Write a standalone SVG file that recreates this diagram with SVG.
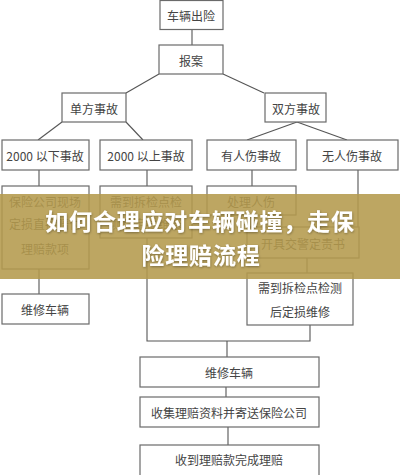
<svg xmlns="http://www.w3.org/2000/svg" width="400" height="475" viewBox="0 0 400 475">
<defs>
<style>
.box{fill:#fff;stroke:#6a6a6a;stroke-width:1.2}
.t{font-family:"Noto Sans CJK SC","Liberation Serif",serif;font-size:12px;fill:#444;text-anchor:middle;dominant-baseline:central}
.c line,.c polyline{stroke:#555;stroke-width:1.1;fill:none}
.title{font-family:"Noto Sans CJK SC","Liberation Sans",sans-serif;font-size:23px;font-weight:bold;fill:#fff;text-anchor:middle;dominant-baseline:central;letter-spacing:0.8px}
</style>
<filter id="sh" x="-5%" y="-20%" width="110%" height="140%"><feDropShadow dx="0.5" dy="1" stdDeviation="0.8" flood-color="#000" flood-opacity="0.35"/></filter>
</defs>
<rect width="400" height="475" fill="#fff"/>
<g class="c">
<line x1="192" y1="29" x2="192" y2="45"/>
<line x1="159" y1="74" x2="126" y2="93"/>
<line x1="223" y1="74" x2="264" y2="93"/>
<line x1="62" y1="122" x2="38" y2="140"/>
<line x1="126" y1="122" x2="143" y2="140"/>
<line x1="297" y1="122" x2="247" y2="140"/>
<line x1="297" y1="122" x2="347" y2="140"/>
<line x1="39" y1="170" x2="39" y2="186"/>
<line x1="147" y1="170" x2="147" y2="186"/>
<line x1="252" y1="170" x2="252" y2="186"/>
<line x1="358" y1="170" x2="358" y2="227"/>
<line x1="39" y1="269" x2="39" y2="294"/>
<line x1="252" y1="215" x2="252" y2="227"/>
<line x1="307" y1="258" x2="307" y2="273"/>
<polyline points="147,238 147,341 310,341 310,325"/>
<line x1="227" y1="341" x2="227" y2="357"/>
<line x1="226" y1="387" x2="226" y2="397"/>
<line x1="228" y1="427" x2="228" y2="445"/>
</g>
<g id="n1"><rect class="box" x="160" y="0.5" width="63" height="29"/><text class="t" x="191" y="15">车辆出险</text></g>
<g id="n2"><rect class="box" x="159" y="45" width="64" height="29"/><text class="t" x="191" y="60">报案</text></g>
<g id="n3"><rect class="box" x="62" y="93" width="64" height="29"/><text class="t" x="94" y="108">单方事故</text></g>
<g id="n4"><rect class="box" x="265" y="93" width="61" height="29"/><text class="t" x="296" y="108">双方事故</text></g>
<g id="n5"><rect class="box" x="2" y="140" width="87" height="30"/><text class="t" x="45" y="155">2000 以下事故</text></g>
<g id="n6"><rect class="box" x="100" y="140" width="92" height="30"/><text class="t" x="146" y="155">2000 以上事故</text></g>
<g id="n7"><rect class="box" x="207" y="140" width="89" height="30"/><text class="t" x="251" y="155">有人伤事故</text></g>
<g id="n8"><rect class="box" x="307" y="140" width="91" height="30"/><text class="t" x="352" y="155">无人伤事故</text></g>
<g id="n9"><rect class="box" x="2" y="186" width="87" height="83"/><text class="t" x="45" y="201">保险公司现场</text><text class="t" x="45" y="223">定损直接赔付</text><text class="t" x="45" y="248">理赔款项</text></g>
<g id="n10"><rect class="box" x="100" y="186" width="92" height="52"/><text class="t" x="146" y="201">需到拆检点检</text><text class="t" x="146" y="223">测后定损维修</text></g>
<g id="n11"><rect class="box" x="207" y="186" width="89" height="29"/><text class="t" x="251" y="201">处理人伤</text></g>
<g id="n12"><rect class="box" x="247" y="227" width="112" height="31"/><text class="t" x="303" y="243">开具交警定责书</text></g>
<g id="n13"><rect class="box" x="247" y="273" width="106" height="52"/><text class="t" x="300" y="287">需到拆检点检测</text><text class="t" x="300" y="311">后定损维修</text></g>
<g id="n14"><rect class="box" x="2" y="294" width="87" height="30"/><text class="t" x="45" y="309">维修车辆</text></g>
<g id="n15"><rect class="box" x="140" y="357" width="179" height="30"/><text class="t" x="229" y="372">维修车辆</text></g>
<g id="n16"><rect class="box" x="140" y="397" width="179" height="30"/><text class="t" x="229" y="412">收集理赔资料并寄送保险公司</text></g>
<g id="n17"><rect class="box" x="140" y="445" width="179" height="31"/><text class="t" x="229" y="459">收到理赔款完成理赔</text></g>
<g id="banner">
<rect x="0" y="194" width="400" height="85" fill="#b49a4c" opacity="0.88"/>
<text class="title" x="200" y="220" filter="url(#sh)">如何合理应对车辆碰撞，走保</text>
<text class="title" x="201" y="254" filter="url(#sh)">险理赔流程</text>
</g>
</svg>
